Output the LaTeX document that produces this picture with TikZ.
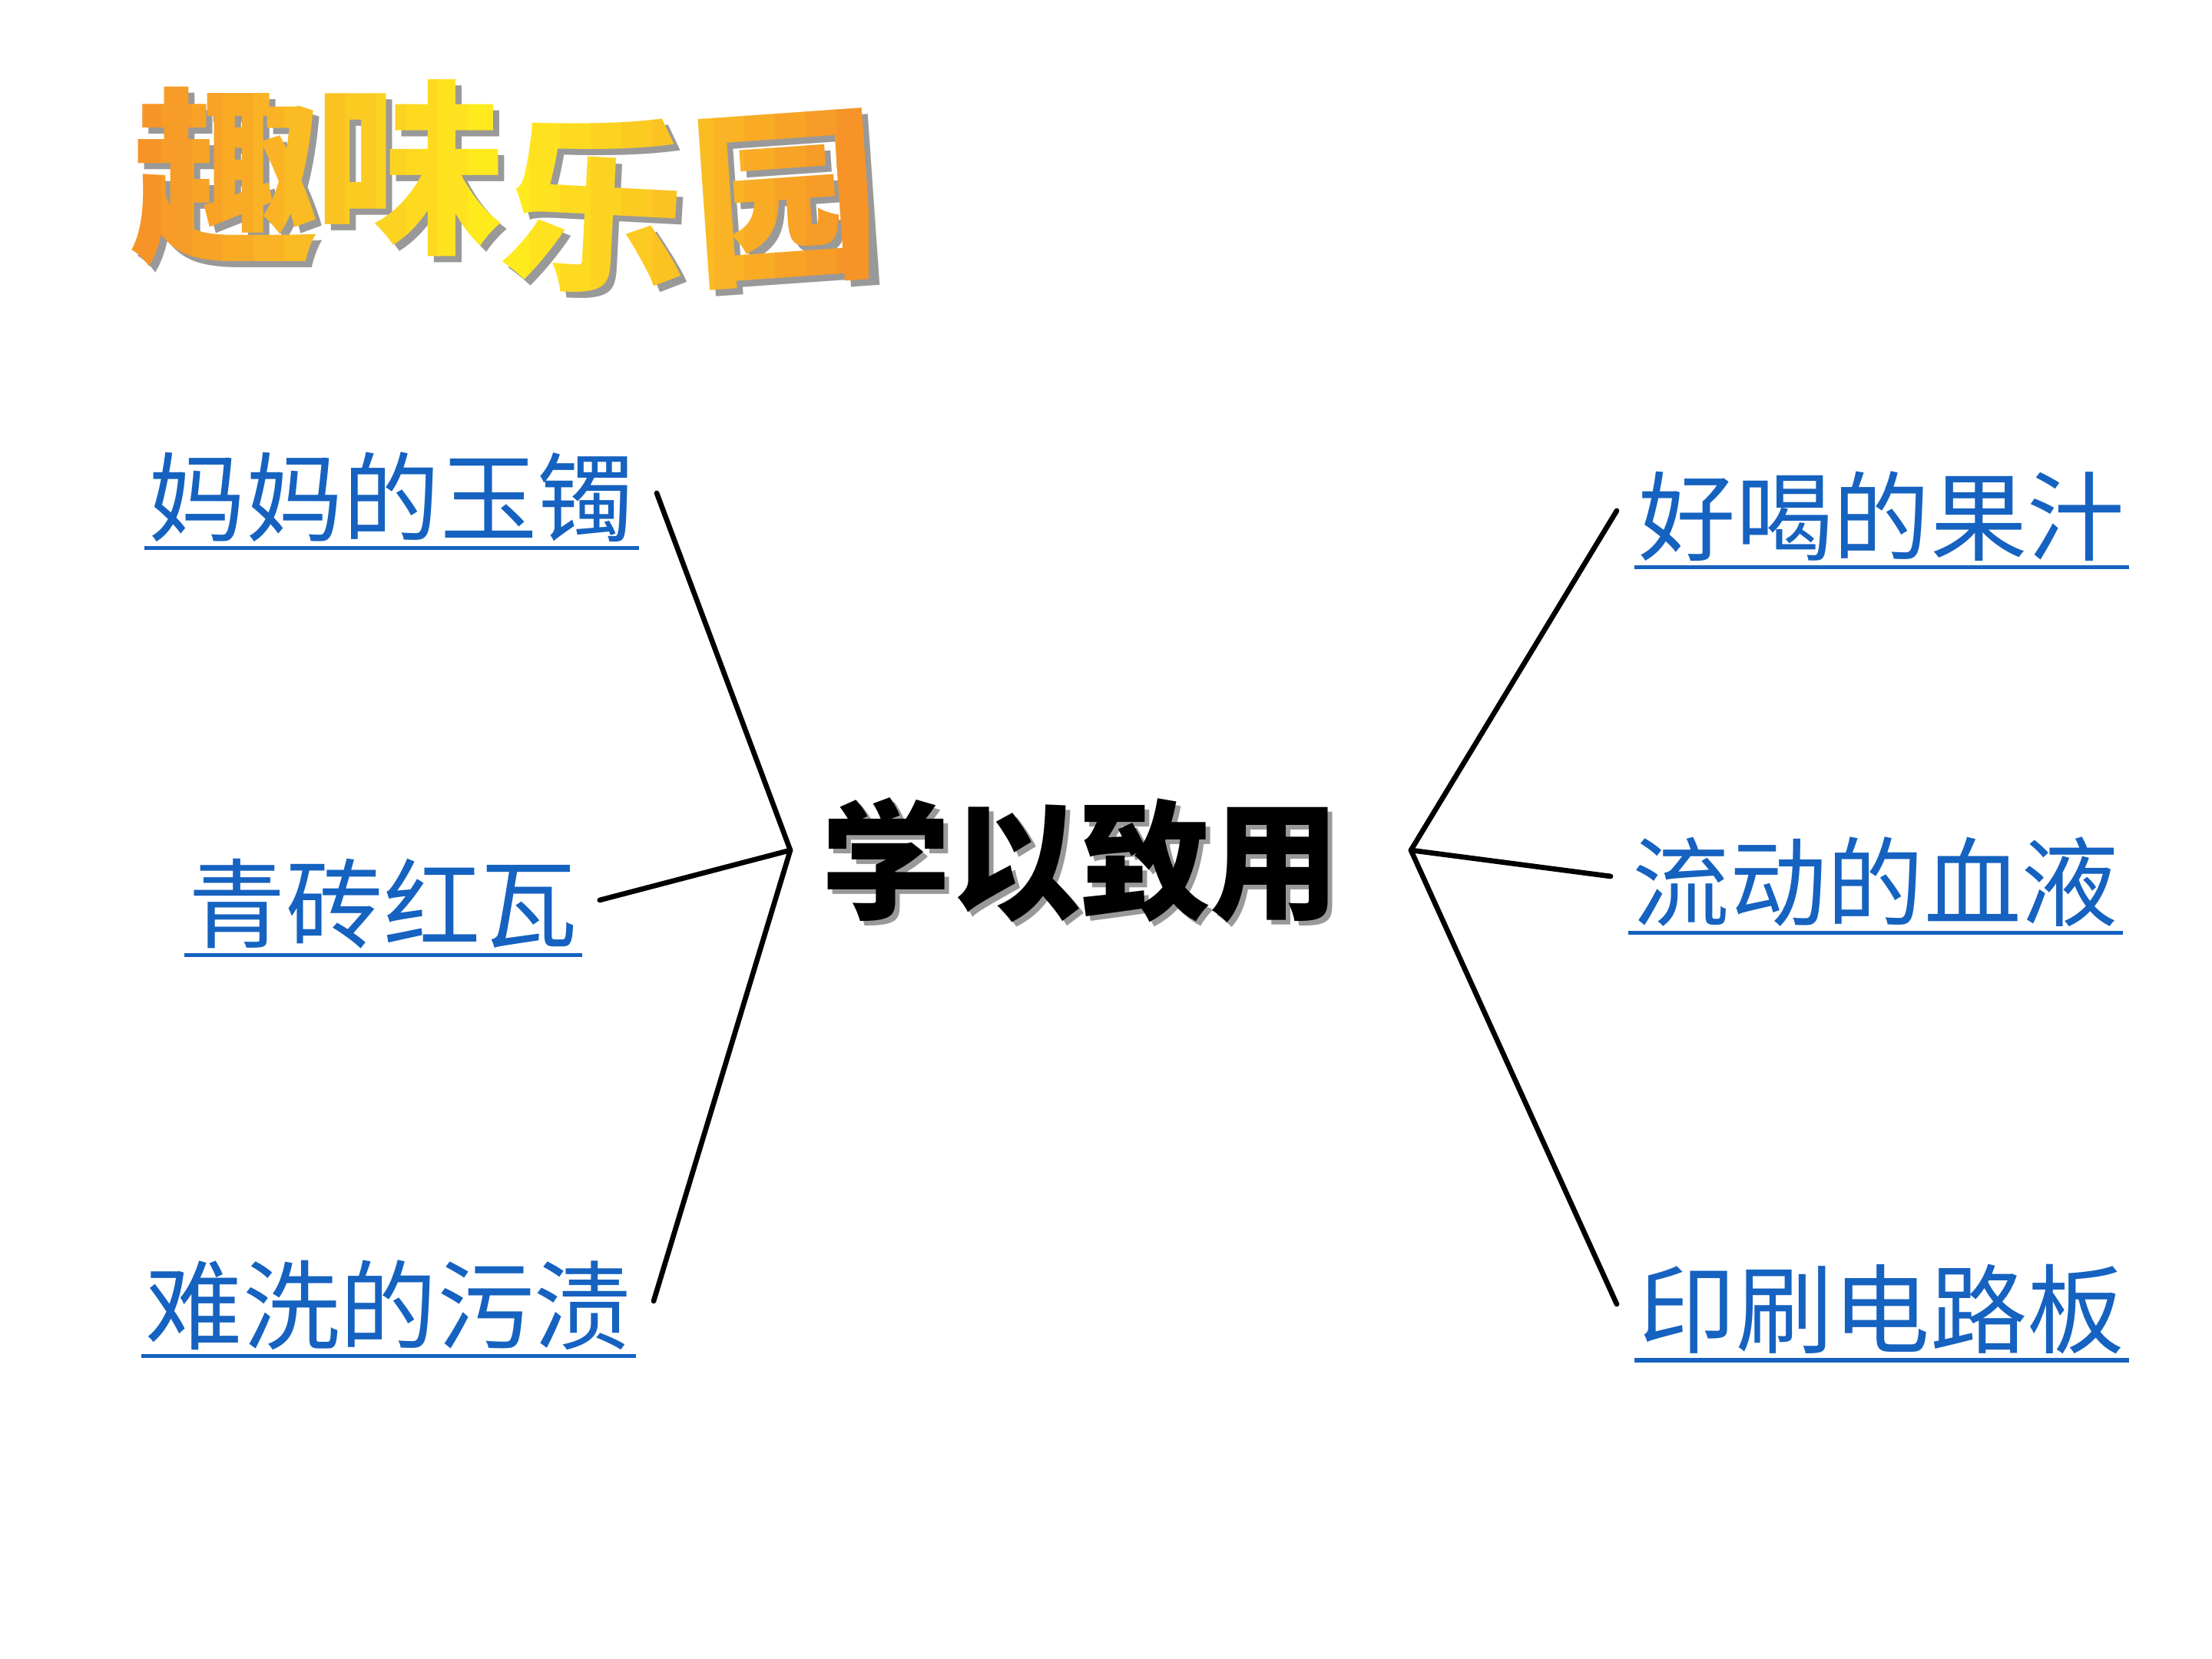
\documentclass[tikz,border=0pt]{standalone}
\usepackage{fontspec}
\newfontfamily\cjk{Noto Sans CJK SC}
\usepackage{tikz}
\definecolor{linkblue}{RGB}{21,98,192}
\definecolor{titleorange}{RGB}{246,140,40}
\definecolor{titleyellow}{RGB}{255,238,30}
\tikzset{
  topic/.style={
    font=\cjk\fontsize{36}{36}\selectfont, text=linkblue, inner sep=0pt,
  },
  title char/.style={
    font=\cjk\bfseries\fontsize{70}{70}\selectfont, inner sep=0pt,
  },
  centre text/.style={
    font=\cjk\bfseries\fontsize{48}{48}\selectfont, inner sep=0pt,
  },
  branch/.style={line width=1.9pt, line cap=round},
}
% the four title characters, in one colour
\newcommand\titlechars[1]{%
    \node[title char, text=#1]            (qu)   at (2.94,19.30) {趣};
    \node[title char, text=#1]            (wei)  at (5.33,19.41) {味};
    \node[title char, text=#1, rotate=-3] (le)   at (7.75,18.94) {乐};
    \node[title char, text=#1, rotate=4]  (yuan) at (10.23,19.01) {园};
}

\begin{document}
\begin{tikzpicture}
    \useasboundingbox[fill=white] (0,0) rectangle (28.8,21.6);

    % title: grey shadow, then orange-yellow strips
    \begin{scope}[shift={(0.08,-0.08)}]
        \titlechars{black!40}
    \end{scope}
    \foreach \k in {0,...,23}{
        \pgfmathsetmacro\mix{max(0,100-abs(1.9+\k*0.4-6.5)*20)}
        \begin{scope}
            \clip (1.7+\k*0.4,17.0) rectangle ++(0.41,4.2);
            \titlechars{titleyellow!\mix!titleorange}
        \end{scope}
    }

    % centre text with shadow
    \node[centre text, text=black!40] (applyshadow) at (14.13,10.34) {学以致用};
    \node[centre text] (apply) at (14.07,10.40) {学以致用};

    % hubs where the branches meet
    \coordinate (hubL) at (10.29,10.53);
    \coordinate (hubR) at (18.37,10.53);

    % left topics
    \node[topic] (jade)  at (5.10,15.13) {妈妈的玉镯};
    \node[topic] (brick) at (4.99,9.83)  {青砖红瓦};
    \node[topic] (stain) at (5.06,4.61)  {难洗的污渍};

    % right topics
    \node[topic] (juice) at (24.50,14.88) {好喝的果汁};
    \node[topic] (blood) at (24.42,10.12) {流动的血液};
    \node[topic] (board) at (24.50,4.55)  {印刷电路板};

    % underlines
    \foreach \n in {jade,brick,stain,juice,blood,board}
        \draw[linkblue, line width=1.5pt]
            ([xshift=-0.05cm,yshift=-2pt]\n.south west) --
            ([xshift=0.05cm,yshift=-2pt]\n.south east);

    % branches
    \foreach \n in {jade,brick,stain}
        \draw[branch] ([xshift=0.28cm,yshift=0.05cm]\n.east) -- (hubL);
    \foreach \n in {juice,blood,board}
        \draw[branch] ([xshift=-0.28cm,yshift=0.07cm]\n.west) -- (hubR);
\end{tikzpicture}
\end{document}
